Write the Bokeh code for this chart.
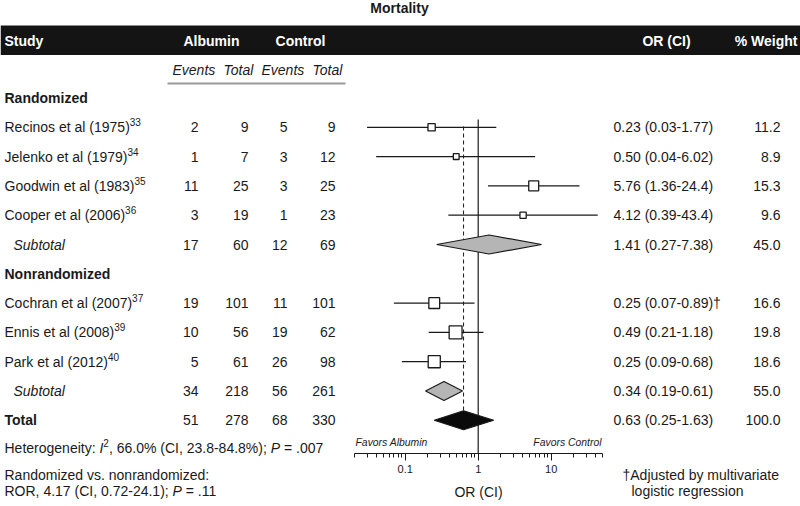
from bokeh.plotting import figure
from bokeh.models import Range1d, LogScale, LinearAxis, FixedTicker, ColumnDataSource
from bokeh.core.properties import value
from bokeh.embed import file_html
from bokeh.resources import INLINE

# ---------------- data ----------------
studies = ["Recinos et al (1975)", "Jelenko et al (1979)", "Goodwin et al (1983)",
           "Cooper et al (2006)", "Cochran et al (2007)", "Ennis et al (2008)",
           "Park et al (2012)"]
refs = ["33", "34", "35", "36", "37", "39", "40"]
groups = ["Randomized", "Randomized", "Randomized", "Randomized",
          "Nonrandomized", "Nonrandomized", "Nonrandomized"]
alb_events = [2, 1, 11, 3, 19, 10, 5]
alb_total = [9, 7, 25, 19, 101, 56, 61]
ctl_events = [5, 3, 3, 1, 11, 19, 26]
ctl_total = [9, 12, 25, 23, 101, 62, 98]
odds = [0.23, 0.50, 5.76, 4.12, 0.25, 0.49, 0.25]
ci_low = [0.03, 0.04, 1.36, 0.39, 0.07, 0.21, 0.09]
ci_high = [1.77, 6.02, 24.4, 43.4, 0.89, 1.18, 0.68]
weights = [11.2, 8.9, 15.3, 9.6, 16.6, 19.8, 18.6]
or_notes = ["", "", "", "", "\u2020", "", ""]

group_names = ["Randomized", "Nonrandomized"]
sub_labels = ["Subtotal", "Subtotal", "Total"]
sub_alb_events = [17, 34, 51]
sub_alb_total = [60, 218, 278]
sub_ctl_events = [12, 56, 68]
sub_ctl_total = [69, 261, 330]
sub_or = [1.41, 0.34, 0.63]
sub_low = [0.27, 0.19, 0.25]
sub_high = [7.38, 0.61, 1.63]
sub_weight = [45.0, 55.0, 100.0]

null_value = 1.0
major_ticks = [0.1, 1, 10]
minor_ticks = [0.02, 0.03, 0.04, 0.05, 0.06, 0.07, 0.08, 0.09,
               0.2, 0.3, 0.4, 0.5, 0.6, 0.7, 0.8, 0.9,
               2, 3, 4, 5, 6, 7, 8, 9, 20, 30, 40, 50]
axis_bounds = (0.02, 50)

NB = "\u00a0"
title = "Mortality"
heterogeneity = [("Heterogeneity:" + NB, "normal"), ("I", "italic"), ("2", "sup"),
                 (", 66.0% (CI, 23.8-84.8%);" + NB, "normal"), ("P", "italic"),
                 (NB + "=" + NB + ".007", "normal")]
ror_line1 = "Randomized vs. nonrandomized:"
ror_line2 = [("ROR, 4.17 (CI, 0.72-24.1);" + NB, "normal"), ("P", "italic"),
             (NB + "=" + NB + ".11", "normal")]
footnote = ["\u2020Adjusted by multivariate", "logistic regression"]

# ---------------- layout ----------------
W_PX, H_PX = 800, 506
FONT = "Liberation Sans"
INK = "#1a1a1a"

X_ONE, DECADE = 477.7, 73.0          # pixel of OR=1 and width of one decade
Y0, DY = 97.5, 29.3                  # first row and row step

p = figure(width=W_PX, height=H_PX, x_range=Range1d(0, W_PX), y_range=Range1d(H_PX, 0),
           x_axis_location=None, y_axis_location=None, toolbar_location=None,
           output_backend="svg", min_border=0, outline_line_color=None,
           background_fill_color="white", border_fill_color="white")
p.grid.visible = False
p.extra_x_ranges = {"or": Range1d(10 ** ((0 - X_ONE) / DECADE), 10 ** ((W_PX - X_ONE) / DECADE))}
p.extra_x_scales = {"or": LogScale()}

W = {' ': 278, NB: 278, '!': 278, '%': 889, '(': 333, ')': 333, ',': 278, '-': 333, '.': 278,
     ':': 278, ';': 278, '=': 584, '\u2020': 556,
     'A': 667, 'B': 667, 'C': 722, 'D': 722, 'E': 667, 'F': 611, 'G': 778, 'H': 722,
     'I': 278, 'J': 500, 'K': 667, 'L': 556, 'M': 833, 'N': 722, 'O': 778, 'P': 667,
     'Q': 778, 'R': 722, 'S': 667, 'T': 611, 'U': 722, 'V': 667, 'W': 944, 'X': 667,
     'Y': 667, 'Z': 611, 'a': 556, 'b': 556, 'c': 500, 'd': 556, 'e': 556, 'f': 278,
     'g': 556, 'h': 556, 'i': 222, 'j': 222, 'k': 500, 'l': 222, 'm': 833, 'n': 556,
     'o': 556, 'p': 556, 'q': 556, 'r': 333, 's': 500, 't': 278, 'u': 556, 'v': 500,
     'w': 722, 'x': 500, 'y': 500, 'z': 500}


def tw(s, size):
    return sum(W.get(c, 556) for c in s) / 1000.0 * size


T = []


def txt(x, y, s, size=14, style="normal", align="left", color=INK):
    T.append(dict(x=x, y=y, text=s, size=f"{size:.2f}px", style=style,
                  align=align, color=color))


def run(x, y, parts, size=14):
    for s, st in parts:
        if st == "sup":
            txt(x, y - 5, s, size=10)
            x += tw(s, 10)
        else:
            txt(x, y, s, size=size, style=st)
            x += tw(s, size)


# title and header band
txt(399, 7, title, style="bold", align="center")
p.quad(left=[0], right=[W_PX], top=[25], bottom=[54.5], fill_color="#141414", line_color=None)
txt(4, 40, "Study", style="bold", color="white")
txt(211, 40, "Albumin", style="bold", align="center", color="white")
txt(300, 40, "Control", style="bold", align="center", color="white")
txt(666, 40, "OR (CI)", style="bold", align="center", color="white")
txt(797, 40, "% Weight", style="bold", align="right", color="white")
for xx, s in [(172, "Events"), (223, "Total"), (261, "Events"), (312, "Total")]:
    txt(xx, 69, s, style="italic")
p.segment(x0=[167], x1=[345], y0=[83], y1=[83], line_color="#999999", line_width=2)

COLS = [198, 248, 287, 335]
OR_X, WT_X = 613, 780


def fmt(v):
    return f"{v:.1f}" if v >= 10 else f"{v:.2f}"


row = 0
study_y, sub_y = [], []
for gi, g in enumerate(group_names):
    txt(4, Y0 + row * DY, g, style="bold")
    row += 1
    for i, s in enumerate(studies):
        if groups[i] != g:
            continue
        y = Y0 + row * DY
        study_y.append(y)
        run(4, y, [(s, "normal"), (refs[i], "sup")])
        for cx, v in zip(COLS, [alb_events[i], alb_total[i], ctl_events[i], ctl_total[i]]):
            txt(cx, y, str(v), align="right")
        txt(OR_X, y, f"{fmt(odds[i])} ({fmt(ci_low[i])}-{fmt(ci_high[i])}){or_notes[i]}")
        txt(WT_X, y, f"{weights[i]:.1f}", align="right")
        row += 1
    y = Y0 + row * DY
    sub_y.append(y)
    txt(13, y, sub_labels[gi], style="italic")
    row += 1
y = Y0 + row * DY
sub_y.append(y)
txt(4, y, sub_labels[2], style="bold")
for k in range(3):
    y = sub_y[k]
    for cx, v in zip(COLS, [sub_alb_events[k], sub_alb_total[k], sub_ctl_events[k], sub_ctl_total[k]]):
        txt(cx, y, str(v), align="right")
    txt(OR_X, y, f"{fmt(sub_or[k])} ({fmt(sub_low[k])}-{fmt(sub_high[k])})")
    txt(WT_X, y, f"{sub_weight[k]:.1f}", align="right")

AXIS_Y = 453
# reference lines
p.segment(x0=[null_value], x1=[null_value], y0=[119], y1=[AXIS_Y], x_range_name="or",
          line_color=INK, line_width=1.2)
p.segment(x0=[sub_or[2]], x1=[sub_or[2]], y0=[126], y1=[sub_y[2] - 9.5], x_range_name="or",
          line_color=INK, line_width=1, line_dash="4 3")

# CIs and squares
p.segment(x0=ci_low, x1=ci_high, y0=study_y, y1=study_y, x_range_name="or",
          line_color=INK, line_width=1.3)
p.scatter(x=odds, y=study_y, size=[w * 0.65 for w in weights], marker="square",
          x_range_name="or", fill_color="white", line_color=INK, line_width=1.3)

# diamonds
H = 9.5
xs = [[lo, m, hi, m] for lo, m, hi in zip(sub_low, sub_or, sub_high)]
ys = [[yy, yy - H, yy, yy + H] for yy in sub_y]
p.patches(xs=xs, ys=ys, x_range_name="or", fill_color=["#b5b5b5", "#b5b5b5", "#0a0a0a"],
          line_color=INK, line_width=1.2)

# axis
ax = LinearAxis(x_range_name="or", fixed_location=AXIS_Y, bounds=axis_bounds,
                ticker=FixedTicker(ticks=major_ticks, minor_ticks=minor_ticks),
                axis_label="OR (CI)")
ax.major_label_overrides = {0.1: "0.1", 1: "1", 10: "10"}
ax.axis_line_color = INK
ax.major_tick_line_color = INK
ax.minor_tick_line_color = INK
ax.major_tick_in = 0
ax.major_tick_out = 7
ax.minor_tick_in = 0
ax.minor_tick_out = 4
ax.major_label_standoff = 4
ax.major_label_text_font = FONT
ax.major_label_text_font_size = "11px"
ax.major_label_text_color = INK
ax.axis_label_text_font = FONT
ax.axis_label_text_font_style = "normal"
ax.axis_label_text_font_size = "14px"
ax.axis_label_text_color = INK
ax.axis_label_standoff = 8
p.add_layout(ax, "below")

txt(355, 442, "Favors Albumin", size=10.4, style="italic")
txt(601, 442, "Favors Control", size=10.4, style="italic", align="right")

# footer texts
run(4, 447, heterogeneity)
txt(4, 474, ror_line1)
run(4, 490, ror_line2)
txt(622, 474, footnote[0])
txt(631, 490, footnote[1])

# render text groups
groups_t = {}
for t in T:
    groups_t.setdefault((t["size"], t["style"], t["align"], t["color"]), []).append(t)
for (size, style, align, color), items in groups_t.items():
    src = ColumnDataSource(dict(x=[t["x"] for t in items], y=[t["y"] for t in items],
                                text=[t["text"] for t in items]))
    p.text(x="x", y="y", text="text", source=src, text_font=value(FONT),
           text_font_size=value(size), text_font_style=value(style),
           text_align=value(align), text_baseline=value("middle"), text_color=value(color))

open("out.html", "w").write(file_html(p, INLINE))
